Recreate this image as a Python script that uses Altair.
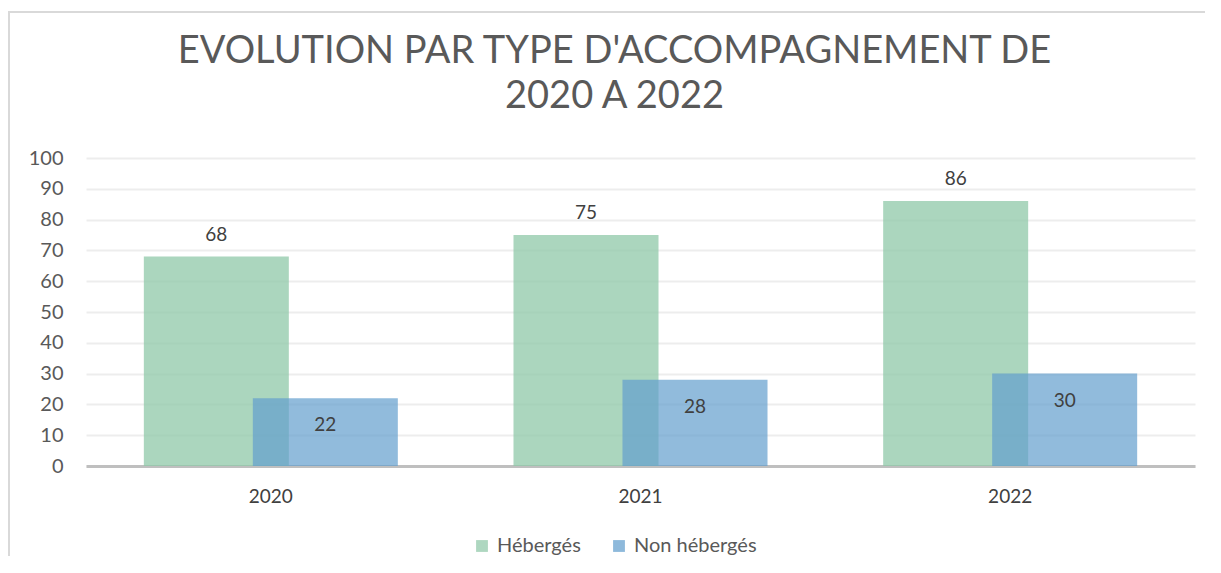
import altair as alt
import pandas as pd

years = ["2020", "2021", "2022"]
heberges = [68, 75, 86]
non_heberges = [22, 28, 30]
series = ["Hébergés", "Non hébergés"]
colors = ["#8FC8A8", "#629ECD"]
y_ticks = list(range(0, 101, 10))

rows = []
for i, yr in enumerate(years):
    rows.append({"year": yr, "series": series[0], "value": heberges[i]})
    rows.append({"year": yr, "series": series[1], "value": non_heberges[i]})
df = pd.DataFrame(rows)

FONT = "Century Gothic, Lato, sans-serif"
W, H = 1109, 308

x_enc = alt.X("year:O", title=None,
              scale=alt.Scale(paddingInner=0, paddingOuter=0),
              axis=alt.Axis(labelAngle=0, labelFontSize=19, labelColor="#404040",
                            labelFont=FONT, labelPadding=21, ticks=False,
                            domainColor="#BFBFBF", domainWidth=3, grid=False))
y_enc = alt.Y("value:Q", title=None,
              scale=alt.Scale(domain=[0, 100], nice=False),
              axis=alt.Axis(values=y_ticks, labelFontSize=20, labelColor="#595959",
                            labelFont=FONT, labelPadding=23, ticks=False, domain=False,
                            gridColor="#EDEDED", gridWidth=2))
color_enc = alt.Color("series:N", title=None,
                      scale=alt.Scale(domain=series, range=colors),
                      legend=alt.Legend(orient="none", direction="horizontal",
                                        legendX=386, legendY=378,
                                        symbolType="square", symbolSize=140,
                                        symbolOpacity=0.72, symbolStrokeWidth=0,
                                        labelFontSize=20, labelColor="#595959",
                                        labelFont=FONT, labelOffset=5,
                                        columnPadding=28, padding=0))

base = alt.Chart(df)

bars_h = base.transform_filter(alt.datum.series == series[0]).mark_bar(
    width=145, xOffset=-54.5, opacity=0.75
).encode(x=x_enc, y=y_enc, color=color_enc)

bars_n = base.transform_filter(alt.datum.series == series[1]).mark_bar(
    width=145, xOffset=54.5, opacity=0.7
).encode(x=x_enc, y=y_enc, color=color_enc)

text_h = base.transform_filter(alt.datum.series == series[0]).mark_text(
    xOffset=-54.5, dy=-22, fontSize=19, color="#404040", font=FONT
).encode(x=x_enc, y=y_enc, text="value:Q")

text_n = base.transform_filter(alt.datum.series == series[1]).mark_text(
    xOffset=54.5, dy=27, fontSize=19, color="#404040", font=FONT
).encode(x=x_enc, y=y_enc, text="value:Q")

frame_top = base.mark_rule(color="#D9D9D9", strokeWidth=2).encode(
    x=alt.value(-78), x2=alt.value(W + 40), y=alt.value(-146))
frame_left = base.mark_rule(color="#D9D9D9", strokeWidth=2).encode(
    x=alt.value(-77), y=alt.value(-146), y2=alt.value(420))

chart = alt.layer(frame_top, frame_left, bars_h, bars_n, text_h, text_n).properties(
    width=W, height=H,
    title=alt.TitleParams(
        text=["EVOLUTION  PAR TYPE D'ACCOMPAGNEMENT  DE", "2020 A 2022"],
        font=FONT, fontSize=38, fontWeight="normal", color="#595959",
        anchor="middle", dx=-26, offset=-105, lineHeight=45),
    padding={"left": 78, "top": 150, "right": 10, "bottom": 90},
    autosize=alt.AutoSizeParams(type="none")
).configure_view(stroke=None)

chart.save("out.html", embed_options={"renderer": "svg", "actions": False})
